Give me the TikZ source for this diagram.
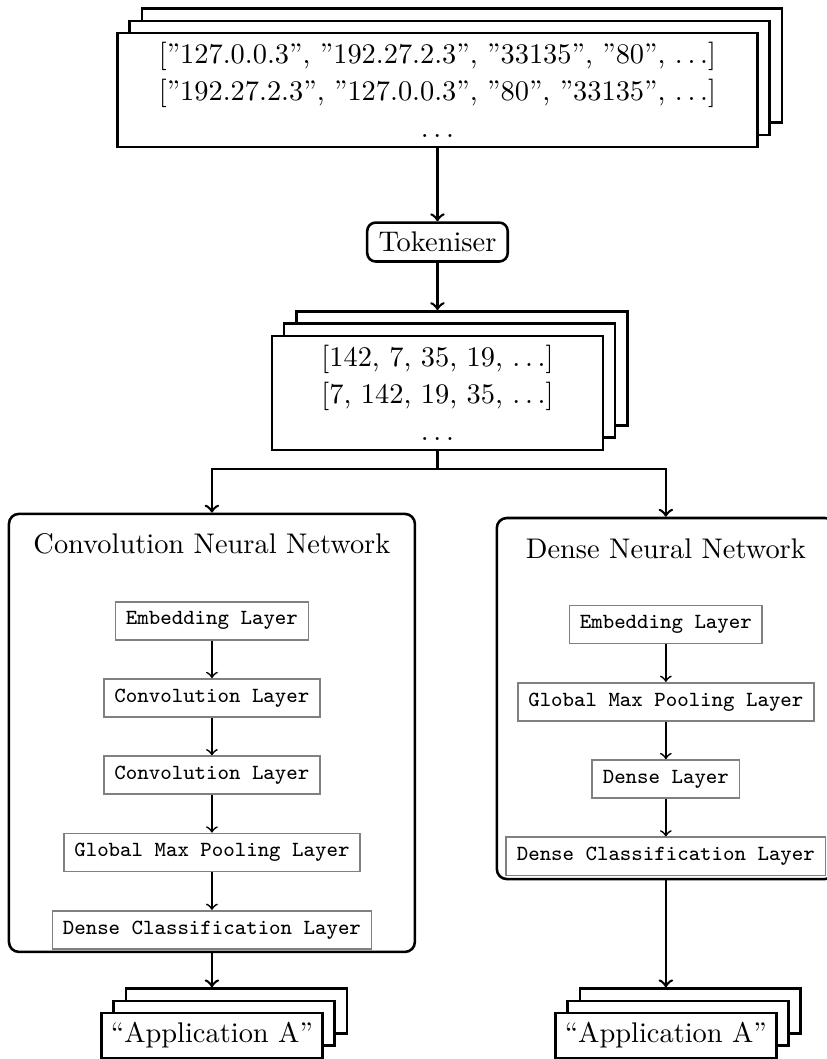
\documentclass[tikz,border=0pt]{standalone}
\usetikzlibrary{positioning,shadows}

\begin{document}
\begin{tikzpicture}[
    node distance=13.2pt,
    stack/.style={draw, line width=0.9pt, fill=white, align=center,
        font=\fontsize{10}{13}\selectfont,
        copy shadow={shadow xshift=8.6pt, shadow yshift=8.6pt, draw=black, line width=0.9pt, fill=white},
        copy shadow={shadow xshift=4.3pt, shadow yshift=4.3pt, draw=black, line width=0.9pt, fill=white}},
    tool/.style={draw, line width=0.9pt, rounded corners=3pt, inner xsep=4pt},
    panel/.style={draw, line width=0.9pt, rounded corners=3.5pt},
    layer/.style={draw=black!50, semithick, minimum height=13.4pt, inner xsep=3.7pt,
        font=\fontsize{7.6}{9}\selectfont\ttfamily},
    flow/.style={->, line width=0.9pt},
    link/.style={->, semithick}]
  % fix the page to the size of the sketch
  \useasboundingbox (0,0) rectangle (291.1pt,-372.8pt);

  % input records and the tokeniser
  \node[stack, minimum width=225.3pt] (raw) at (154pt,-31.7pt)
      {[”127.0.0.3”, ”192.27.2.3”, ”33135”, ”80”, $\ldots$]\\
       {[}”192.27.2.3”, ”127.0.0.3”, ”80”, ”33135”, $\ldots$]\\ $\ldots$};
  \node[tool] (tok) at (154pt,-85.2pt) {Tokeniser};
  \node[stack, minimum width=116.5pt] (ids) at (154pt,-138.3pt)
      {[142, 7, 35, 19, $\ldots$]\\ {[}7, 142, 19, 35, $\ldots$]\\ $\ldots$};

  % the two models
  \node[panel, minimum width=142.9pt, minimum height=154.2pt] (cnn) at (74.6pt,-258pt) {};
  \node (cnntitle) at ([yshift=-10.9pt]cnn.north) {Convolution Neural Network};
  \node[layer, below=13pt of cnntitle] (cnn1) {Embedding Layer};
  \node[layer, below=of cnn1] (cnn2) {Convolution Layer};
  \node[layer, below=of cnn2] (cnn3) {Convolution Layer};
  \node[layer, below=of cnn3] (cnn4) {Global Max Pooling Layer};
  \node[layer, below=of cnn4] (cnn5) {Dense Classification Layer};

  \node[panel, minimum width=119pt, minimum height=127.1pt] (dnn) at (234.4pt,-245.9pt) {};
  \node (dnntitle) at ([yshift=-11.3pt]dnn.north) {Dense Neural Network};
  \node[layer, below=12.6pt of dnntitle] (dnn1) {Embedding Layer};
  \node[layer, below=of dnn1] (dnn2) {Global Max Pooling Layer};
  \node[layer, below=of dnn2] (dnn3) {Dense Layer};
  \node[layer, below=of dnn3] (dnn4) {Dense Classification Layer};

  % outputs
  \node[stack] (appa) at (74.6pt,-364.5pt) {“Application A”};
  \node[stack] (appb) at (234.4pt,-364.5pt) {“Application A”};

  % connectors
  \draw[flow] (raw.south) -- (tok.north);
  \draw[flow] (tok.south) -- ([yshift=8.6pt]ids.north);
  \draw[line width=0.9pt] (ids.south) -- ++(0,-6.3pt) coordinate (split);
  \draw[flow] (split) -| (cnn.north);
  \draw[flow] (split) -| (dnn.north);
  \foreach \a/\b in {cnn1/cnn2, cnn2/cnn3, cnn3/cnn4, cnn4/cnn5, dnn1/dnn2, dnn2/dnn3, dnn3/dnn4}
    \draw[link] (\a) -- (\b);
  \draw[flow] (cnn.south) -- ([yshift=8.6pt]appa.north);
  \draw[flow] (dnn.south) -- ([yshift=8.6pt]appb.north);
\end{tikzpicture}
\end{document}
